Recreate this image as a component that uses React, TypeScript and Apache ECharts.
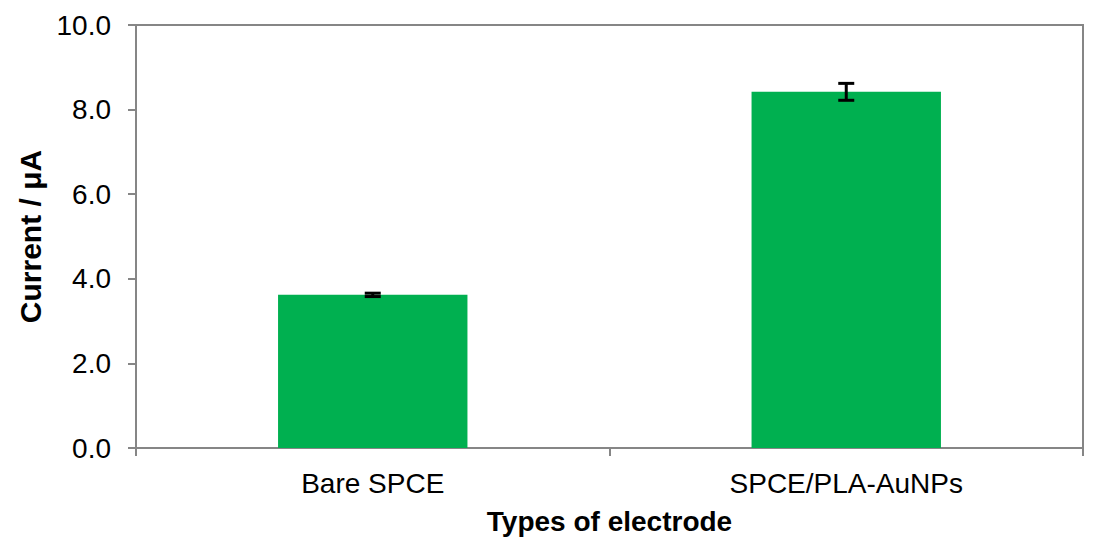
import React, { useEffect, useRef } from "react";
import * as echarts from "echarts";

const categories = ["Bare SPCE", "SPCE/PLA-AuNPs"];
const currentValues = [3.62, 8.42];
const errorValues = [0.04, 0.2];
const yTicks = { min: 0, max: 10, interval: 2 };

export default function App() {
  const ref = useRef<HTMLDivElement>(null);
  useEffect(() => {
    const chart = echarts.init(ref.current!, undefined, { renderer: "svg" });
    const font = "'Liberation Sans', Arial, sans-serif";
    const axisColor = "#868686";
    chart.setOption({
      animation: false,
      backgroundColor: "#ffffff",
      grid: {
        left: 136,
        right: 17,
        top: 25,
        bottom: 100,
        show: true,
        borderColor: axisColor,
        borderWidth: 2,
        backgroundColor: "transparent",
      },
      xAxis: {
        type: "category",
        data: categories,
        name: "Types of electrode",
        nameLocation: "middle",
        nameGap: 59,
        nameTextStyle: { fontFamily: font, fontSize: 28, fontWeight: "bold", color: "#000" },
        axisLine: { lineStyle: { color: axisColor, width: 2 } },
        axisTick: { show: true, length: 8, lineStyle: { color: axisColor, width: 2 } },
        axisLabel: { fontFamily: font, fontSize: 28, color: "#000", margin: 21 },
      },
      yAxis: {
        type: "value",
        min: yTicks.min,
        max: yTicks.max,
        interval: yTicks.interval,
        name: "Current / μA",
        nameLocation: "middle",
        nameGap: 88,
        nameTextStyle: { fontFamily: font, fontSize: 30, fontWeight: "bold", color: "#000" },
        splitLine: { show: false },
        axisLine: { show: true, lineStyle: { color: axisColor, width: 2 } },
        axisTick: { show: true, length: 8, lineStyle: { color: axisColor, width: 2 } },
        axisLabel: {
          fontFamily: font,
          fontSize: 28,
          color: "#000",
          margin: 25,
          formatter: (v: number) => v.toFixed(1),
        },
      },
      series: [
        {
          type: "bar",
          data: currentValues,
          barWidth: "40%",
          itemStyle: { color: "#00b050" },
        },
        {
          type: "custom",
          data: currentValues.map((v, i) => [i, v - errorValues[i], v + errorValues[i]]),
          renderItem: (params: any, api: any) => {
            const x = api.value(0);
            const lo = api.coord([x, api.value(1)]);
            const hi = api.coord([x, api.value(2)]);
            const half = 8;
            const style = { stroke: "#000", lineWidth: 3 };
            return {
              type: "group",
              children: [
                { type: "line", shape: { x1: lo[0], y1: lo[1], x2: hi[0], y2: hi[1] }, style },
                { type: "line", shape: { x1: lo[0] - half, y1: lo[1], x2: lo[0] + half, y2: lo[1] }, style },
                { type: "line", shape: { x1: hi[0] - half, y1: hi[1], x2: hi[0] + half, y2: hi[1] }, style },
              ],
            };
          },
          z: 10,
        },
      ],
    });
    return () => chart.dispose();
  }, []);
  return (
    <div
      ref={ref}
      style={{ position: "fixed", left: 0, top: 0, width: 1100, height: 548, background: "#fff" }}
    />
  );
}
